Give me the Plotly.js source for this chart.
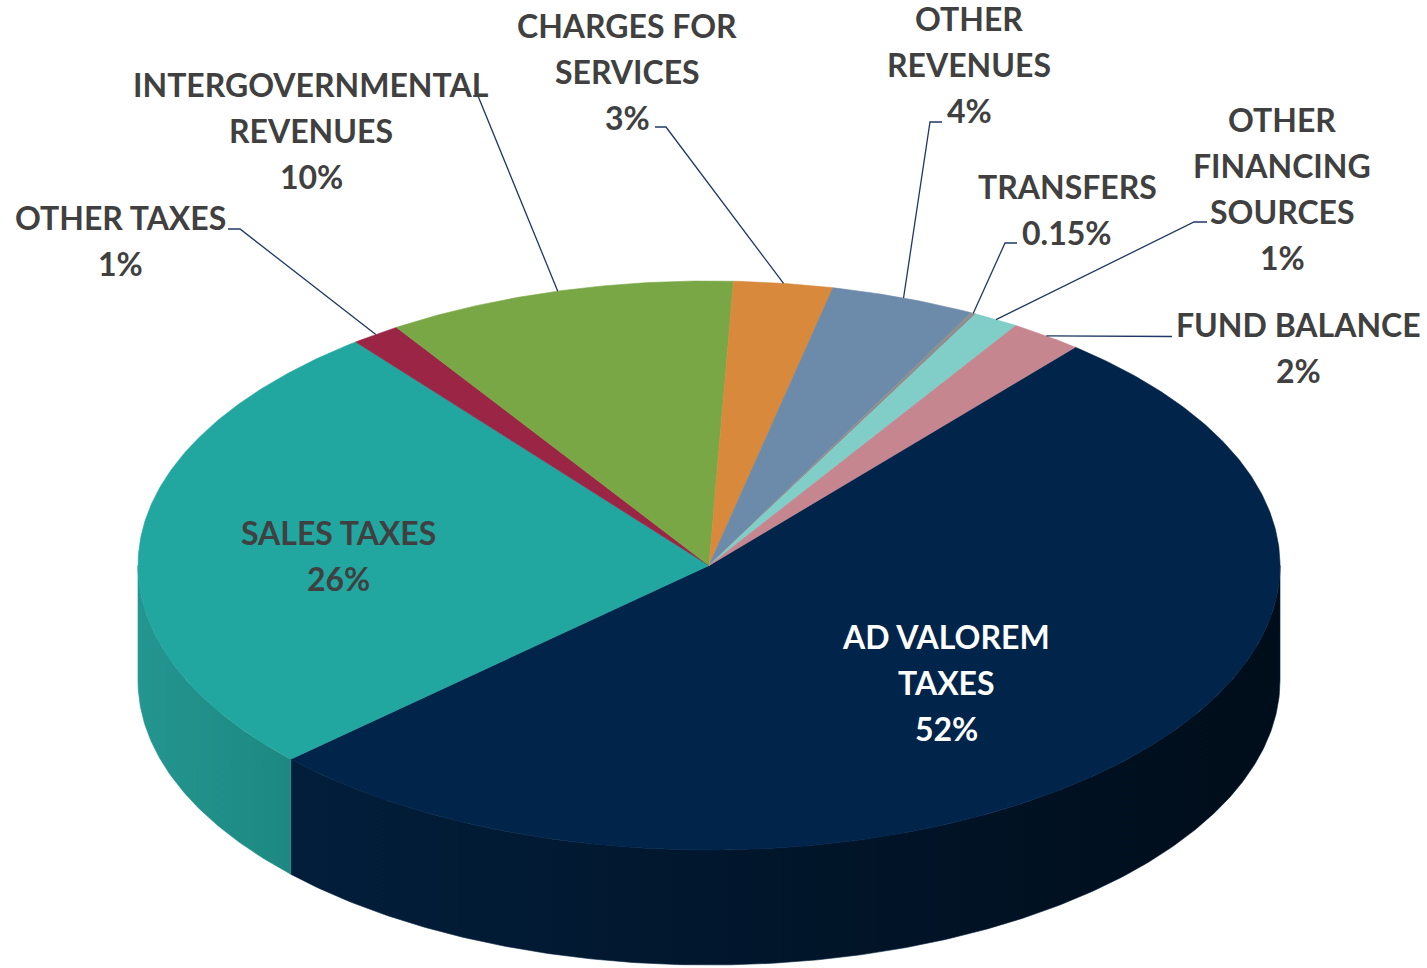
<!DOCTYPE html>
<html>
<head>
<meta charset="utf-8">
<script src="https://cdn.plot.ly/plotly-3.0.1.min.js"></script>
<style>html,body{margin:0;padding:0;background:#fff;}#chart{width:1427px;height:968px;}</style>
</head>
<body>
<div id="chart"></div>
<script>
// ---- data ----
const categories = ['AD VALOREM TAXES','SALES TAXES','OTHER TAXES','INTERGOVERNMENTAL REVENUES','CHARGES FOR SERVICES','OTHER REVENUES','TRANSFERS','OTHER FINANCING SOURCES','FUND BALANCE'];
const values = [52.0, 26.3, 1.4, 9.9, 2.8, 4.1, 0.15, 1.3, 2.05];
const labelLines = [['AD VALOREM','TAXES'],['SALES TAXES'],['OTHER TAXES'],['INTERGOVERNMENTAL','REVENUES'],['CHARGES FOR','SERVICES'],['OTHER','REVENUES'],['TRANSFERS'],['OTHER','FINANCING','SOURCES'],['FUND BALANCE']];

// ---- style / layout constants ----
const topColors  = ['#00244a','#22a6a0','#9b2545','#79a746','#d9893b','#6c8aaa','#8e8e8e','#81cdc8','#c5868f'];
const sideScales = [[[0,'#021e3b'],[1,'#000d1a']], [[0,'#23968f'],[1,'#1d8882']], null,null,null,null,null,null,null];
const textColors = ['#ffffff','#404040','#404040','#404040','#404040','#404040','#404040','#404040','#404040'];
const W = 1427, H = 968;
const CX = 709, CY = 565.5;        // pixel centre of top face
const RX = 571, RY = 284.5, DEPTH = 115;
const START = 50.1;                // degrees, slices run clockwise
// label centres (pixel) and leader elbows (pixel); null = label inside slice
const labelPos = [[946,682],[338,555],[120,240],[311,130.5],[627,71],[969,64.5],[1067,209],[1282,188],[1298,347]];
const leader = [null,null,[[228,229],[240,229]],[[473,96],[478,96]],[[655,127],[666,127]],[[942,122],[930,122]],[[1017,243],[1005,243]],[[1207,222],[1194,222]],[[1172,336.5]]];
const LINE_PITCH = 46, FONT_SIZE = 32;

const total = values.reduce((a,b)=>a+b,0);
const pctText = values.map(v => { const p = v/total*100; return (p < 1 ? p.toFixed(2) : Math.round(p)) + '%'; });

const px = x => x - CX, py = y => CY - y;
const rad = d => d*Math.PI/180;
function arc(a1, a2, dy) { // from a1 to a2 (degrees), sampled
  const n = Math.max(2, Math.ceil(Math.abs(a2-a1)/0.5));
  const xs=[], ys=[];
  for (let i=0;i<=n;i++){ const a=a1+(a2-a1)*i/n; xs.push(RX*Math.cos(rad(a))); ys.push(RY*Math.sin(rad(a))+(dy||0)); }
  return [xs, ys];
}

const sideTraces = [], topTraces = [], lineTraces = [], annotations = [];
let ang = START;
values.forEach((v, i) => {
  const span = v/total*360;
  const a1 = ang, a2 = ang - span;
  const mid = (a1+a2)/2;
  // side wall for visible front part
  for (let k=-2;k<=1;k++){
    const lo = Math.max(a2, 180+360*k), hi = Math.min(a1, 360+360*k);
    if (hi > lo) {
      const [tx, ty] = arc(lo, hi, 0);
      const [bx, by] = arc(hi, lo, -DEPTH);
      const t = {type:'scatter', mode:'lines', x: tx.concat(bx, [tx[0]]), y: ty.concat(by, [ty[0]]), fill:'toself', fillcolor: topColors[i], line:{width:0.6, color: (sideScales[i]? sideScales[i][0][1] : topColors[i])}, hoverinfo:'skip', showlegend:false};
      if (sideScales[i]) t.fillgradient = {type:'horizontal', colorscale: sideScales[i], start: Math.min(...tx), stop: Math.max(...tx)};
      sideTraces.push(t);
    }
  }
  // top face slice
  const [ax, ay] = arc(a1, a2, 0);
  topTraces.push({type:'scatter', mode:'lines', x:[0].concat(ax,[0]), y:[0].concat(ay,[0]), fill:'toself', fillcolor: topColors[i], line:{width:0.6, color: topColors[i]}, hoverinfo:'skip', showlegend:false, name: categories[i]});
  // leader line
  if (leader[i]) {
    const pts = leader[i].map(p => [px(p[0]), py(p[1])]);
    pts.push([RX*Math.cos(rad(mid)), RY*Math.sin(rad(mid))]);
    lineTraces.push({type:'scatter', mode:'lines', x: pts.map(p=>p[0]), y: pts.map(p=>p[1]), line:{color:'#1f3864', width:1.3}, hoverinfo:'skip', showlegend:false});
  }
  // labels (one annotation per line)
  const lines = labelLines[i].concat([pctText[i]]);
  const n = lines.length;
  lines.forEach((s, j) => {
    annotations.push({x: px(labelPos[i][0]), y: py(labelPos[i][1] + (j-(n-1)/2)*LINE_PITCH), xref:'x', yref:'y', text: s, showarrow:false, xanchor:'center', yanchor:'middle',
      font:{family:'Lato, "Open Sans", sans-serif', size: FONT_SIZE, color: textColors[i], weight: 700}});
  });
  ang = a2;
});

const layout = {
  width: W, height: H, margin:{l:0,r:0,t:0,b:0}, paper_bgcolor:'#ffffff', plot_bgcolor:'#ffffff',
  xaxis:{range:[-CX, W-CX], visible:false, fixedrange:true},
  yaxis:{range:[CY-H, CY], visible:false, fixedrange:true},
  showlegend:false, annotations: annotations
};
Plotly.newPlot('chart', sideTraces.concat(topTraces, lineTraces), layout, {staticPlot:true, displayModeBar:false});
</script>
</body>
</html>
